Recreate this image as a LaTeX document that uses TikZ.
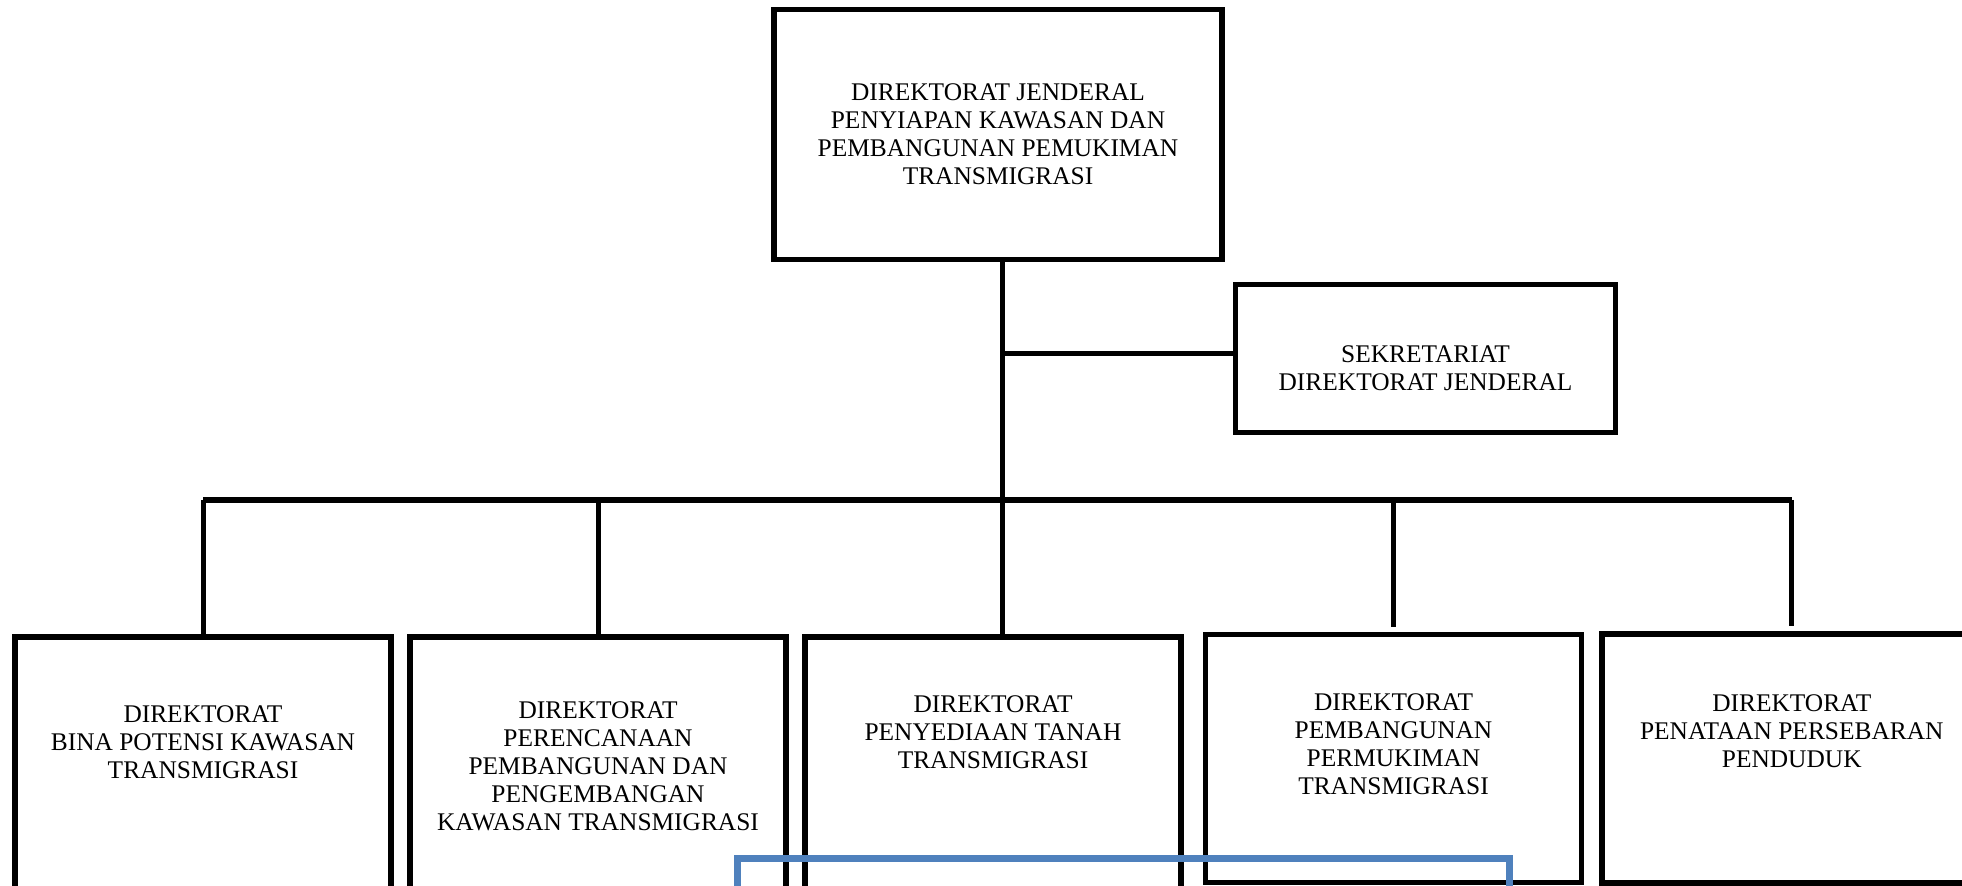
\documentclass[tikz,border=0pt]{standalone}
\usepackage{fontspec}
\setmainfont{Liberation Serif}
\usepackage{xcolor}
\definecolor{frameblue}{HTML}{4F81BD}

\begin{document}
\begin{tikzpicture}[x=0.5pt, y=-0.5pt, line join=miter,
    box/.style={draw, line width=2.9pt, outer sep=0pt, inner sep=0pt},
    unit/.style={box, minimum width=188pt, minimum height=126pt, anchor=north},
    txt/.style={align=center, font=\fontsize{12.7}{14}\selectfont},
    link/.style={line width=2.5pt}]

    % Page frame, in pixels of the scan (y runs downwards)
    \useasboundingbox (0,0) rectangle (1962,886);

    % Director general and secretariat
    \node[box, txt, minimum width=224pt, minimum height=125pt] (dirjen) at (998,134.5)
        {DIREKTORAT JENDERAL\\ PENYIAPAN KAWASAN DAN\\ PEMBANGUNAN PEMUKIMAN\\ TRANSMIGRASI};
    \node[box, minimum width=190pt, minimum height=74pt] (sekret) at (1425.5,358.5) {};
    \node[txt] (sekret-txt) at ([yshift=-5pt]sekret.center) {SEKRETARIAT\\ DIREKTORAT JENDERAL};

    % The five directorates
    \node[unit] (bina) at (203,637) {};
    \node[unit] (rencana) at (598,637) {};
    \node[unit] (tanah) at (993,637) {};
    \node[unit, minimum height=124pt] (mukim) at (1393.5,634.5) {};
    \node[unit, minimum width=190pt, minimum height=124.5pt] (sebar) at (1791.75,634) {};

    \node[txt] (bina-txt) at ([yshift=-52.5pt]bina.north)
        {DIREKTORAT\\ BINA POTENSI KAWASAN\\ TRANSMIGRASI};
    \node[txt] (rencana-txt) at ([yshift=-64.5pt]rencana.north)
        {DIREKTORAT\\ PERENCANAAN\\ PEMBANGUNAN DAN\\ PENGEMBANGAN\\ KAWASAN TRANSMIGRASI};
    \node[txt] (tanah-txt) at ([yshift=-47.5pt]tanah.north)
        {DIREKTORAT\\ PENYEDIAAN TANAH\\ TRANSMIGRASI};
    \node[txt] (mukim-txt) at ([yshift=-54.75pt]mukim.north)
        {DIREKTORAT\\ PEMBANGUNAN\\ PERMUKIMAN\\ TRANSMIGRASI};
    \node[txt] (sebar-txt) at ([yshift=-48.5pt]sebar.north)
        {DIREKTORAT\\ PENATAAN PERSEBARAN\\ PENDUDUK};

    % Trunk, branch to the secretariat and the long bar
    \coordinate (bar) at (1002,500);
    \draw[link] ([xshift=2pt]dirjen.south) -- (bar);
    \draw[link] ([yshift=2.5pt]sekret.west -| bar) -- ([yshift=2.5pt]sekret.west);
    \draw[line width=3.2pt] (bina.north |- bar) -- (sebar.north |- bar);

    % Drops to the directorates (the last two stop short)
    \draw[link] (bina.north |- bar) -- (bina.north);
    \draw[link] (rencana.north |- bar) -- (rencana.north);
    \draw[link] (bar) -- (bar |- tanah.north);
    \draw[link, shorten >=4pt] (mukim.north |- bar) -- (mukim.north);
    \draw[link, shorten >=4pt] (sebar.north |- bar) -- (sebar.north);

    % Blue caption frame, cut by the page edge
    \node[draw=frameblue, line width=3.4pt, anchor=north west, outer sep=0pt,
        minimum width=386pt, minimum height=60pt] (sumber) at (737.5,858.5) {};

\end{tikzpicture}
\end{document}
